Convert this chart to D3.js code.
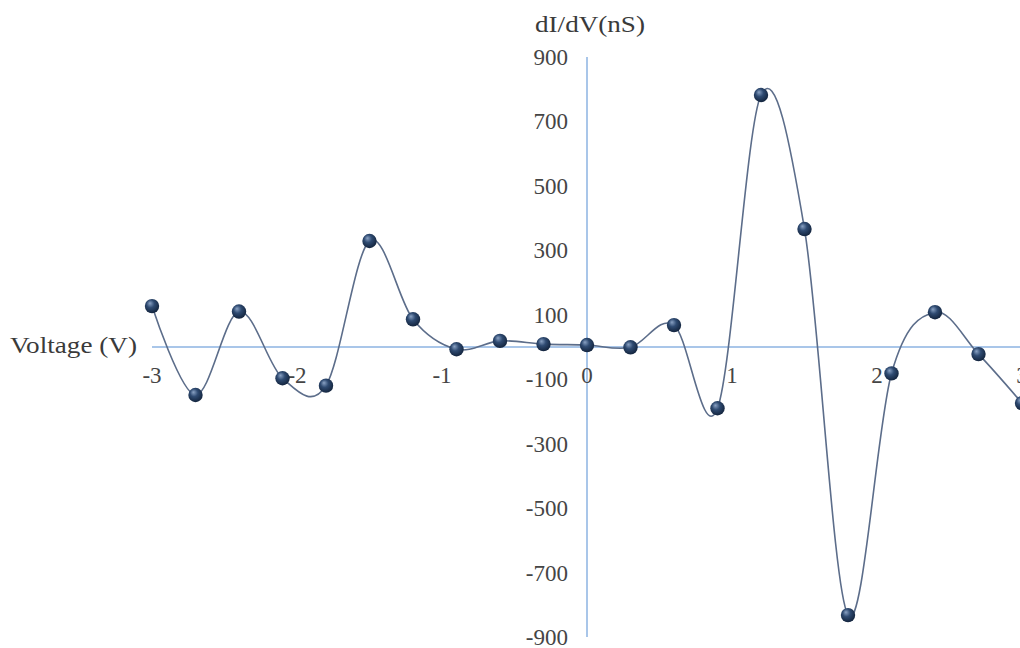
<!DOCTYPE html>
<meta charset="utf-8">
<title>dI/dV vs Voltage</title>
<style>
body { margin: 0; background: #ffffff; }
.tick-label { font-family: "Liberation Serif", "Times New Roman", serif; font-size: 23px; fill: #454545; }
.axis-title { font-family: "Liberation Serif", "Times New Roman", serif; font-size: 23px; fill: #3a3a3a; }
.axis-line { stroke: #8db3e2; stroke-width: 1.5; fill: none; }
.curve { fill: none; stroke: #5c6d8a; stroke-width: 1.6; }
</style>
<body>
<script src="https://d3js.org/d3.v7.min.js"></script>
<script>

// data
var voltage = [-3, -2.7, -2.4, -2.1, -1.8, -1.5, -1.2, -0.9, -0.6, -0.3, 0,
               0.3, 0.6, 0.9, 1.2, 1.5, 1.8, 2.1, 2.4, 2.7, 3];
var didv = [127, -149, 110, -97, -120, 329, 86, -7, 19, 9, 6,
            -1, 68, -190, 782, 366, -832, -82, 108, -22, -174];
var xTicks = [-3, -2, -1, 0, 1, 2, 3];
var yTicks = [-900, -700, -500, -300, -100, 100, 300, 500, 700, 900];

var width = 1020, height = 648;

var svg = d3.select("body").append("svg")
    .attr("width", width)
    .attr("height", height);

var x = d3.scaleLinear().domain([-3, 3]).range([152, 1022]);
var y = d3.scaleLinear().domain([-900, 900]).range([637, 57]);

// marker gradient
var defs = svg.append("defs");
var grad = defs.append("radialGradient")
    .attr("id", "ball")
    .attr("cx", "45%").attr("cy", "40%").attr("r", "60%")
    .attr("fx", "35%").attr("fy", "30%");
grad.append("stop").attr("offset", "0%").attr("stop-color", "#8aa2c4");
grad.append("stop").attr("offset", "45%").attr("stop-color", "#2f4b72");
grad.append("stop").attr("offset", "100%").attr("stop-color", "#13243d");

// axes through the origin
svg.append("line")
    .attr("class", "axis-line")
    .attr("x1", x(-3)).attr("x2", width)
    .attr("y1", y(0)).attr("y2", y(0));
svg.append("line")
    .attr("class", "axis-line")
    .attr("x1", x(0)).attr("x2", x(0))
    .attr("y1", y(900)).attr("y2", y(-900));

// y tick labels
svg.append("g").selectAll("text")
    .data(yTicks)
  .enter().append("text")
    .attr("class", "tick-label")
    .attr("x", x(0) - 19)
    .attr("y", function(d) { return y(d); })
    .attr("dy", "0.35em")
    .attr("text-anchor", "end")
    .text(function(d) { return d; });

// x tick labels (the last one runs off the edge, as in the original)
svg.append("g").selectAll("text")
    .data(xTicks)
  .enter().append("text")
    .attr("class", "tick-label")
    .attr("x", function(d) { return x(d); })
    .attr("y", y(0) + 28)
    .attr("dy", "0.35em")
    .attr("text-anchor", "middle")
    .text(function(d) { return d; });

// axis titles
svg.append("text")
    .attr("class", "axis-title")
    .attr("x", 10)
    .attr("y", y(0) - 2)
    .attr("dy", "0.35em")
    .attr("textLength", 127)
    .attr("lengthAdjust", "spacingAndGlyphs")
    .text("Voltage (V)");

svg.append("text")
    .attr("class", "axis-title")
    .attr("x", 535)
    .attr("y", 24)
    .attr("dy", "0.35em")
    .attr("textLength", 110)
    .attr("lengthAdjust", "spacingAndGlyphs")
    .text("dI/dV(nS)");

// smoothed curve
var pts = voltage.map(function(v, i) { return [v, didv[i]]; });
var line = d3.line()
    .x(function(d) { return x(d[0]); })
    .y(function(d) { return y(d[1]); })
    .curve(d3.curveCardinal.tension(0));

svg.append("path")
    .datum(pts)
    .attr("class", "curve")
    .attr("d", line);

// markers
svg.append("g").selectAll("circle")
    .data(pts)
  .enter().append("circle")
    .attr("cx", function(d) { return x(d[0]); })
    .attr("cy", function(d) { return y(d[1]); })
    .attr("r", 7.2)
    .attr("fill", "url(#ball)");

</script>
